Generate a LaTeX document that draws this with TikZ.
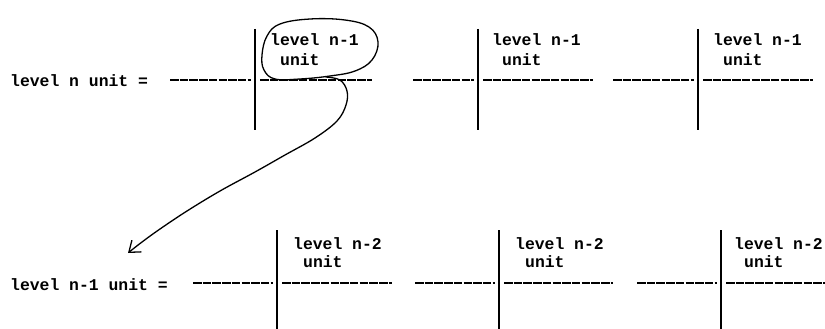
\documentclass[tikz,border=0pt]{standalone}
\usepackage{fontspec}
\setmonofont{Liberation Mono}
\usetikzlibrary{arrows.meta}
\tikzset{
  lbl/.style={font=\ttfamily\bfseries\fontsize{16.4}{20}\selectfont, inner sep=0pt, anchor=base west},
  rule/.style={line width=1.8pt, dash pattern=on 8.5pt off 1.2pt},
  bar/.style={line width=1.4pt},
  pen/.style={line width=1.3pt, line cap=round, line join=round},
  barb/.style={pen, -{Straight Barb[length=10pt, width=15pt, line width=1.3pt]}}
}
\begin{document}
\begin{tikzpicture}[x=1pt, y=-1pt]
  \useasboundingbox (0,0) rectangle (825,329);

  % ---- level n unit ----
  \node[lbl] (top) at (10,86.5) {level n unit =};
  \foreach \l/\v/\r in {170/255/372, 413/478/593, 613/698/813}{
    \draw[rule] (\l,80) -- (\v-4,80);
    \draw[bar]  (\v,29) -- (\v,130);
    \draw[rule] (\v+5,80) -- (\r,80);
  }
  \node[lbl] (ta1) at (270,46) {level n-1};
  \node[lbl] (tb1) at (280,66) {unit};
  \node[lbl] (ta2) at (492,46) {level n-1};
  \node[lbl] (tb2) at (502,66) {unit};
  \node[lbl] (ta3) at (713,46) {level n-1};
  \node[lbl] (tb3) at (723,66) {unit};

  % ---- level n-1 unit ----
  \node[lbl] (bot) at (10,290) {level n-1 unit =};
  \foreach \l/\v/\r in {193/277/392, 415/499/613, 637/721/830}{
    \draw[rule] (\l,283) -- (\v-4,283);
    \draw[bar]  (\v,230) -- (\v,335);
    \draw[rule] (\v+5,283) -- (\r,283);
  }
  \node[lbl] (ba1) at (293,249) {level n-2};
  \node[lbl] (bb1) at (303,267) {unit};
  \node[lbl] (ba2) at (515,249) {level n-2};
  \node[lbl] (bb2) at (525,267) {unit};
  \node[lbl] (ba3) at (734,249) {level n-2};
  \node[lbl] (bb3) at (744,267) {unit};

  % ---- loop round the first sub-unit and the arrow down to its expansion ----
  \draw[pen] plot[smooth cycle, tension=0.65] coordinates {
    (262,55) (267,36) (280,24) (310,19) (345,20) (369,27) (378,42)
    (372,60) (355,71) (330,76) (300,79) (275,79) (264,70)};
  \coordinate (tail) at (326,77);
  \coordinate (tip)  at (128,253);
  \draw[barb] plot[smooth, tension=0.6] coordinates {
    (tail) (340,80) (347,91) (346,105) (337,121) (315,138) (285,155)
    (255,172) (220,191) (187,211) (160,229) (142,242) (tip)};
\end{tikzpicture}
\end{document}
